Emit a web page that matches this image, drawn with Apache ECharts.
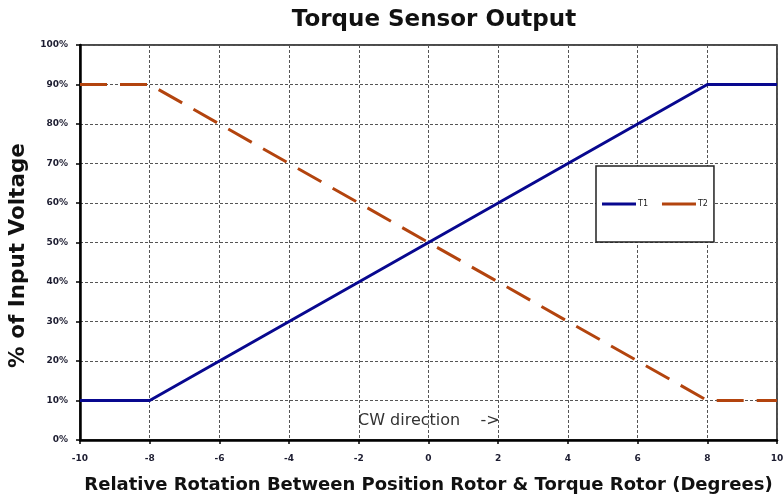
<!DOCTYPE html>
<html>
<head>
<meta charset="utf-8">
<script src="https://cdn.jsdelivr.net/npm/echarts@6/dist/echarts.min.js"></script>
<style>
  html, body { margin: 0; padding: 0; background: #fff; }
  #chart { width: 784px; height: 494px; }
</style>
</head>
<body>
<div id="chart"></div>
<script>
'use strict';

// rotation in degrees, output in % of input voltage
var t1Points = [[-10, 10], [-8, 10], [8, 90], [10, 90]];
var t2Points = [[-10, 90], [-8, 90], [8, 10], [10, 10]];
var seriesNames = ['T1', 'T2'];

var fontFamily = '"DejaVu Sans", Verdana, sans-serif';
var gridLine = { show: true, lineStyle: { color: '#555', type: [3, 2], width: 1 } };
var tickFont = { color: '#1c1c30', fontSize: 9, fontWeight: 'bold', fontFamily: fontFamily };

var chart = echarts.init(document.getElementById('chart'));

chart.setOption({
    backgroundColor: '#fff',
    animation: false,
    title: {
        text: 'Torque Sensor Output',
        left: 429, top: 4, textAlign: 'center',
        textStyle: { fontSize: 23, fontWeight: 'bold', color: '#111', fontFamily: fontFamily }
    },
    grid: {
        left: 80, right: 7, top: 45, bottom: 54,
        outerBoundsMode: 'none',
        show: true, borderColor: '#111', borderWidth: 1.5, backgroundColor: 'transparent'
    },
    legend: {
        left: 596, top: 166,
        orient: 'horizontal',
        backgroundColor: '#fff',
        borderColor: '#222', borderWidth: 1.5,
        padding: [34, 6, 34, 6],
        icon: 'rect',
        itemWidth: 34, itemHeight: 3, itemGap: 14,
        textStyle: { fontSize: 8, color: '#222', fontFamily: fontFamily, padding: [0, 0, 0, -3] },
        data: seriesNames
    },
    xAxis: {
        type: 'value', min: -10, max: 10, interval: 2,
        name: 'Relative Rotation Between Position Rotor & Torque Rotor (Degrees)',
        nameLocation: 'middle', nameGap: 36,
        nameTextStyle: { fontSize: 18, fontWeight: 'bold', color: '#111', fontFamily: fontFamily },
        axisLine: { show: true, onZero: false, lineStyle: { color: '#000', width: 2.5 } },
        axisTick: { show: true, length: 4, lineStyle: { color: '#000', width: 1.5 } },
        axisLabel: Object.assign({ margin: 14 }, tickFont),
        splitLine: gridLine
    },
    yAxis: {
        type: 'value', min: 0, max: 100, interval: 10,
        name: '% of Input Voltage',
        nameLocation: 'middle', nameGap: 48, nameRotate: 90,
        nameTextStyle: { fontSize: 21.5, fontWeight: 'bold', color: '#111', fontFamily: fontFamily, padding: [0, 26, 0, 0] },
        axisLine: { show: true, onZero: false, lineStyle: { color: '#000', width: 2.5 } },
        axisTick: { show: true, length: 4, lineStyle: { color: '#000', width: 1.5 } },
        axisLabel: Object.assign({ margin: 12, formatter: '{value}%' }, tickFont),
        splitLine: gridLine
    },
    graphic: [{
        type: 'text', left: 358, top: 413, z: 10,
        style: { text: 'CW direction    ->', fontSize: 16, fill: '#333', fontFamily: fontFamily }
    }],
    series: [{
        name: seriesNames[0],
        type: 'line',
        data: t1Points,
        symbol: 'none',
        lineStyle: { color: '#08088f', width: 3 },
        itemStyle: { color: '#08088f' }
    }, {
        name: seriesNames[1],
        type: 'line',
        data: t2Points,
        symbol: 'none',
        lineStyle: { color: '#b3440e', width: 3, type: [27, 13] },
        itemStyle: { color: '#b3440e' }
    }]
});
</script>
</body>
</html>
